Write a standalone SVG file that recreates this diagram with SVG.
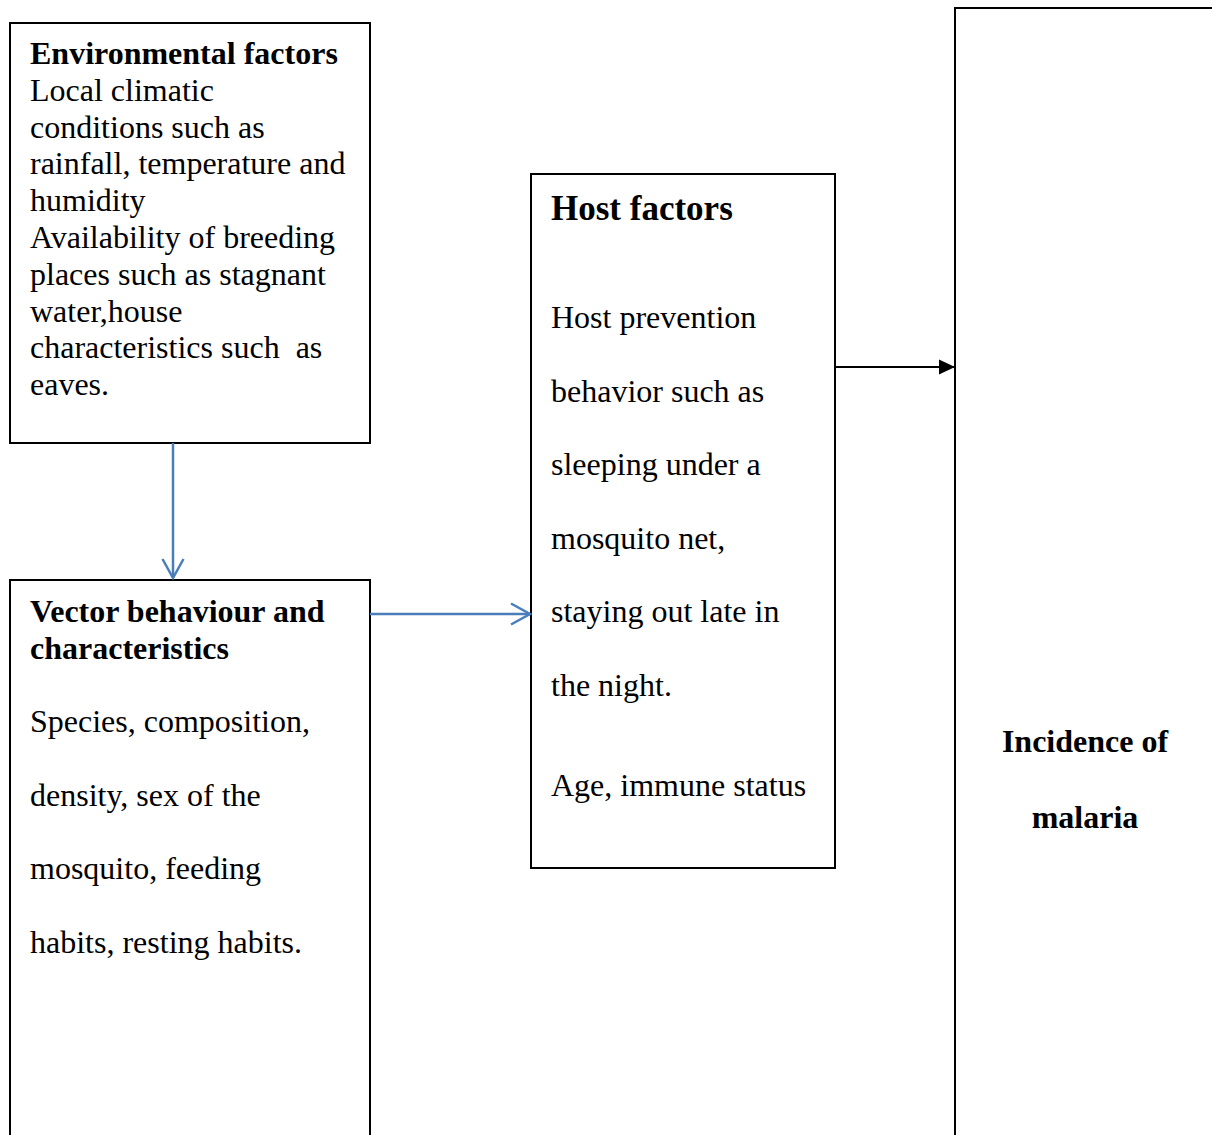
<svg xmlns="http://www.w3.org/2000/svg" width="1212" height="1135" viewBox="0 0 1212 1135">
<style>
.box{fill:#fff;stroke:#000;stroke-width:2}
text{font-family:"Liberation Serif","Times New Roman",serif;font-size:32px;fill:#000}
.b{font-weight:bold}
.blue{stroke:#4a7ebb;stroke-width:2.5;fill:none}
</style>
<defs>
<marker id="open" markerWidth="24" markerHeight="26" refX="21" refY="13" orient="auto" markerUnits="userSpaceOnUse">
<path d="M2,2.5 L21,13 L2,23.5" fill="none" stroke="#4a7ebb" stroke-width="2.5"/>
</marker>
<marker id="solid" markerWidth="16" markerHeight="16" refX="16" refY="8" orient="auto" markerUnits="userSpaceOnUse">
<path d="M0,0.5 L16,8 L0,15.5 Z" fill="#000"/>
</marker>
</defs>
<rect width="1212" height="1135" fill="#fff"/>
<g id="env">
<rect class="box" x="10" y="23" width="360" height="420"/>
<text x="30" y="64" class="b">Environmental factors</text>
<text x="30" y="101">Local climatic</text>
<text x="30" y="138">conditions such as</text>
<text x="30" y="174">rainfall, temperature and</text>
<text x="30" y="211">humidity</text>
<text x="30" y="248">Availability of breeding</text>
<text x="30" y="285">places such as stagnant</text>
<text x="30" y="322">water,house</text>
<text x="30" y="358" xml:space="preserve">characteristics such  as</text>
<text x="30" y="395">eaves.</text>
</g>
<g id="vector">
<rect class="box" x="10" y="580" width="360" height="600"/>
<text x="30" y="622" class="b">Vector behaviour and</text>
<text x="30" y="659" class="b">characteristics</text>
<text x="30" y="732">Species, composition,</text>
<text x="30" y="806">density, sex of the</text>
<text x="30" y="879">mosquito, feeding</text>
<text x="30" y="953">habits, resting habits.</text>
</g>
<g id="host">
<rect class="box" x="531" y="174" width="304" height="694"/>
<text x="551" y="220" class="b" style="font-size:35px">Host factors</text>
<text x="551" y="328">Host prevention</text>
<text x="551" y="402">behavior such as</text>
<text x="551" y="475">sleeping under a</text>
<text x="551" y="549">mosquito net,</text>
<text x="551" y="622">staying out late in</text>
<text x="551" y="696">the night.</text>
<text x="551" y="796">Age, immune status</text>
</g>
<g id="incidence">
<rect class="box" x="955" y="8" width="300" height="1200"/>
<text x="1085" y="752" class="b" text-anchor="middle">Incidence of</text>
<text x="1085" y="828" class="b" text-anchor="middle">malaria</text>
</g>
<g id="connectors">
<line class="blue" x1="173" y1="443" x2="173" y2="578" marker-end="url(#open)"/>
<line class="blue" x1="370" y1="614" x2="530" y2="614" marker-end="url(#open)"/>
<line x1="835" y1="367" x2="955" y2="367" stroke="#000" stroke-width="2" marker-end="url(#solid)"/>
</g>
</svg>
